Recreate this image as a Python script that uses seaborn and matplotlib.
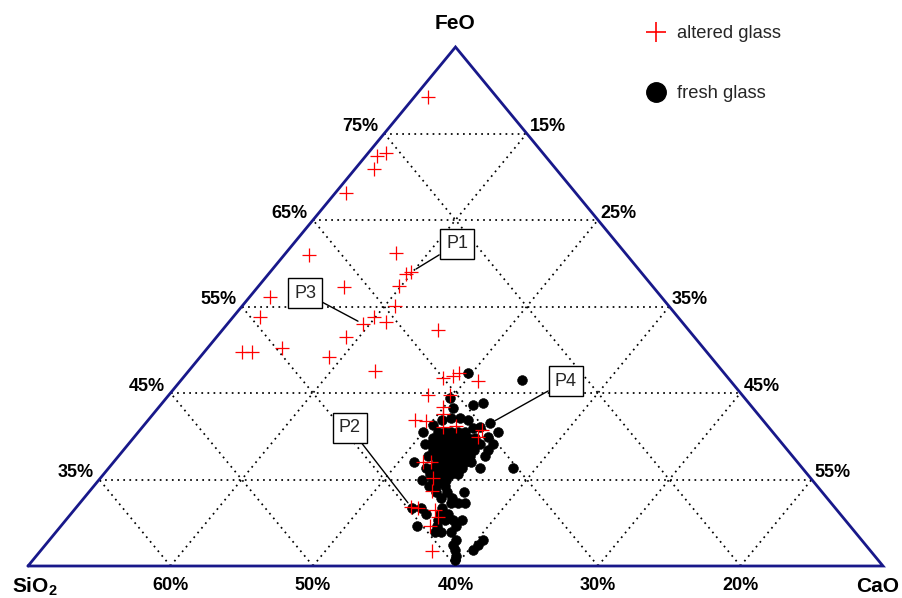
import matplotlib
matplotlib.use("Agg")
import matplotlib.pyplot as plt
from matplotlib.lines import Line2D
import numpy as np
import pandas as pd
import seaborn as sns

# ---- Glass compositions (wt%), FeO-SiO2-CaO sub-triangle ----
# Altered glass
altered_feo = [79.2, 72.4, 72.7, 70.9, 68.1, 61.0, 61.2, 58.8, 59.0, 57.4,
               57.3, 56.1, 55.1, 53.8, 53.8, 53.2, 53.0, 51.5, 52.3, 49.7,
               49.7, 50.2, 49.2, 47.5, 46.7, 47.0, 47.3, 46.4, 44.8, 44.8,
               43.4, 42.6, 41.9, 41.8, 41.1, 41.2, 40.7, 39.9, 37.0, 37.0,
               35.2, 33.7, 31.8, 31.7, 31.5, 30.7, 29.6, 26.7]
altered_cao = [6.0, 5.8, 6.3, 6.3, 5.8, 6.7, 12.7, 14.6, 14.9, 14.8,
               11.0, 6.4, 15.7, 6.9, 14.9, 16.0, 14.5, 14.1, 20.1, 7.7,
               8.4, 10.2, 14.0, 18.1, 23.3, 23.8, 24.1, 25.9, 23.2, 24.7,
               24.9, 25.3, 23.7, 24.5, 26.1, 26.9, 29.0, 29.1, 26.7, 27.3,
               28.3, 29.0, 28.5, 29.0, 30.3, 30.9, 30.9, 32.5]

# Fresh glass
fresh_feo = [47.3, 46.5, 44.4, 43.8, 43.6, 43.3, 42.1, 42.1, 41.9, 41.9,
             41.5, 41.3, 41.1, 41.0, 40.5, 40.5, 39.9,
             40.5, 40.5, 40.5, 40.5, 40.5,
             39.8, 39.8, 39.8, 39.8, 39.8, 39.8, 39.8,
             39.1, 39.1, 39.1, 39.1, 39.1, 39.1, 39.1, 39.1, 39.1, 39.1,
             38.4, 38.4, 38.4, 38.4, 38.4, 38.4, 38.4, 38.4,
             37.7, 37.7, 37.7, 37.7, 37.7, 37.7, 37.7, 37.7,
             37.0, 37.0, 37.0, 37.0, 37.0, 37.0, 37.0,
             36.3, 36.3, 36.3, 36.3, 36.3, 36.3, 36.3, 36.3,
             35.6, 35.6, 35.6, 35.6, 35.6,
             34.9, 34.9, 34.9, 34.9,
             34.3, 34.3, 34.3,
             33.6, 33.6, 33.6,
             32.9, 32.9,
             32.3, 32.3, 32.3,
             31.7, 31.7, 31.7,
             31.0, 31.0, 31.0,
             30.3, 30.3, 30.3, 30.3,
             29.6, 29.6, 29.6,
             28.9, 28.9, 28.9,
             28.0, 28.0,
             27.4, 27.4,
             26.9, 26.9,
             26.2, 25.7]
fresh_cao = [24.7, 28.9, 24.9, 27.5, 26.9, 25.7, 26.8, 26.1, 25.6, 27.4,
             29.2, 25.3, 28.7, 28.2, 25.0, 30.2, 29.8,
             26.0, 26.5, 26.9, 27.4, 27.9,
             26.0, 26.5, 27.0, 27.5, 28.0, 28.5, 29.0,
             25.8, 26.2, 26.7, 27.2, 27.7, 28.2, 28.7, 29.2, 29.7, 30.6,
             26.7, 27.1, 27.6, 28.1, 28.6, 29.1, 29.6, 30.6,
             26.7, 27.2, 27.7, 28.2, 28.7, 29.2, 29.7, 30.7,
             26.1, 27.7, 28.2, 28.7, 29.2, 29.7, 30.1,
             27.3, 27.8, 28.3, 28.8, 29.3, 29.8, 31.1, 33.4,
             27.9, 28.4, 28.9, 29.4, 29.9,
             27.7, 28.5, 28.9, 29.4,
             28.5, 29.0, 29.6,
             29.3, 30.1, 31.3,
             30.0, 30.8,
             31.0, 31.5, 32.0,
             28.6, 29.2, 30.7,
             29.9, 30.9, 31.5,
             31.1, 31.6, 32.2, 32.8,
             30.0, 31.4, 32.7,
             31.6, 32.0, 32.7,
             33.5, 35.4,
             33.6, 35.4,
             34.0, 35.3,
             34.4, 34.6]

# Axis ranges of the sub-triangle (wt%) and tick labels
FEO_MIN, SIO2_MIN, CAO_MIN, SPAN = 25.0, 10.0, 5.0, 60.0
feo_ticks = [35, 45, 55, 65, 75]
cao_ticks = [15, 25, 35, 45, 55]
sio2_ticks = [60, 50, 40, 30, 20]

# Labelled samples: (label, FeO, CaO)
callouts = [("P1", 59.0, 14.9), ("P3", 53.0, 14.5),
            ("P2", 31.8, 28.5), ("P4", 41.5, 29.2)]
callout_text_px = {"P1": (457, 354), "P3": (305, 305),
                   "P2": (350, 170), "P4": (566, 217)}


def to_xy(feo, cao):
    """Project FeO/CaO (wt%) onto the plane of the sub-triangle."""
    f = (np.asarray(feo, float) - FEO_MIN) / SPAN
    c = (np.asarray(cao, float) - CAO_MIN) / SPAN
    return c + f / 2.0, f


def frame(feo, cao, kind):
    x, y = to_xy(feo, cao)
    feo = np.asarray(feo, float)
    cao = np.asarray(cao, float)
    return pd.DataFrame({"FeO": feo, "CaO": cao, "SiO2": 100 - feo - cao,
                         "x": x, "y": y, "glass": kind})


df_alt = frame(altered_feo, altered_cao, "altered glass")
df_fresh = frame(fresh_feo, fresh_cao, "fresh glass")

sns.set_theme(style="white")
plt.rcParams["font.family"] = ["Liberation Sans", "DejaVu Sans"]
plt.rcParams["mathtext.fontset"] = "custom"
plt.rcParams["mathtext.bf"] = "Liberation Sans:bold"
plt.rcParams["mathtext.rm"] = "Liberation Sans"

W, H = 902, 598
fig = plt.figure(figsize=(W / 100, H / 100), dpi=100)
fig.patch.set_facecolor("white")
ax = fig.add_axes([28 / W, 32 / H, 855 / W, 519 / H])

# grid: lines of constant FeO, CaO and SiO2
dot = dict(color="black", lw=1.25, linestyle=(0, (1, 2.5)), zorder=1)
for k in range(1, 6):
    t = k / 6
    ax.plot([t / 2, 1 - t / 2], [t, t], **dot)
    ax.plot([t, t + (1 - t) / 2], [0, 1 - t], **dot)
    ax.plot([1 - t, (1 - t) / 2], [0, 1 - t], **dot)

# triangle outline
ax.plot([0, 1, 0.5, 0], [0, 0, 1, 0], color="#18188a", lw=2.0,
        solid_joinstyle="miter", zorder=2, clip_on=False)

# data
sns.scatterplot(data=df_fresh, x="x", y="y", ax=ax, color="black", marker="o",
                s=50, edgecolor="black", linewidth=0.4, legend=False, zorder=3)
sns.scatterplot(data=df_alt, x="x", y="y", ax=ax, color="red", marker="+",
                s=100, linewidth=0.9, legend=False, zorder=4)
ax.set_xlim(0, 1)
ax.set_ylim(0, 1)
ax.axis("off")

lab = dict(fontsize=13, fontweight="bold", color="black",
           textcoords="offset points", annotation_clip=False)
for v in feo_ticks:
    f = (v - FEO_MIN) / SPAN
    ax.annotate(f"{v}%", xy=(f / 2, f), xytext=(-4, 5), ha="right",
                va="center", **lab)
for v in cao_ticks:
    f = 1 - (v - CAO_MIN) / SPAN   # FeO level on the FeO-CaO edge
    c = 1 - f
    ax.annotate(f"{v}%", xy=(c + f / 2, f), xytext=(2, 5), ha="left",
                va="center", **lab)
for v in sio2_ticks:
    s = (v - SIO2_MIN) / SPAN
    ax.annotate(f"{v}%", xy=(1 - s, 0), xytext=(0, -14), ha="center",
                va="center", **lab)

vlab = dict(fontsize=15, fontweight="bold", color="black",
            textcoords="offset points", annotation_clip=False)
ax.annotate("FeO", xy=(0.5, 1), xytext=(0, 17), ha="center", va="center", **vlab)
ax.annotate(r"$\mathbf{SiO_2}$", xy=(0, 0), xytext=(5, -15), ha="center",
            va="center", **vlab)
ax.annotate("CaO", xy=(1, 0), xytext=(-4, -15), ha="center", va="center", **vlab)

# sample callouts
for name, feo, cao in callouts:
    x, y = to_xy(feo, cao)
    ax.annotate(name, xy=(float(x), float(y)), xytext=callout_text_px[name],
                textcoords="figure pixels", ha="center", va="center",
                fontsize=13, zorder=6,
                bbox=dict(boxstyle="square,pad=0.35", fc="white", ec="black",
                          lw=1.0),
                arrowprops=dict(arrowstyle="-", color="black", lw=1.0,
                                shrinkA=0, shrinkB=4))

handles = [Line2D([], [], marker="+", color="red", linestyle="none",
                  markersize=15, markeredgewidth=1.2),
           Line2D([], [], marker="o", color="black", linestyle="none",
                  markersize=14)]
fig.legend(handles, ["altered glass", "fresh glass"], loc="upper left",
           bbox_to_anchor=(636 / W, 1 - 18 / H), frameon=False,
           fontsize=13.2, labelspacing=2.35, handletextpad=0.45,
           handlelength=1.4, borderaxespad=0)

fig.savefig("out.png", dpi=100, facecolor="white")
